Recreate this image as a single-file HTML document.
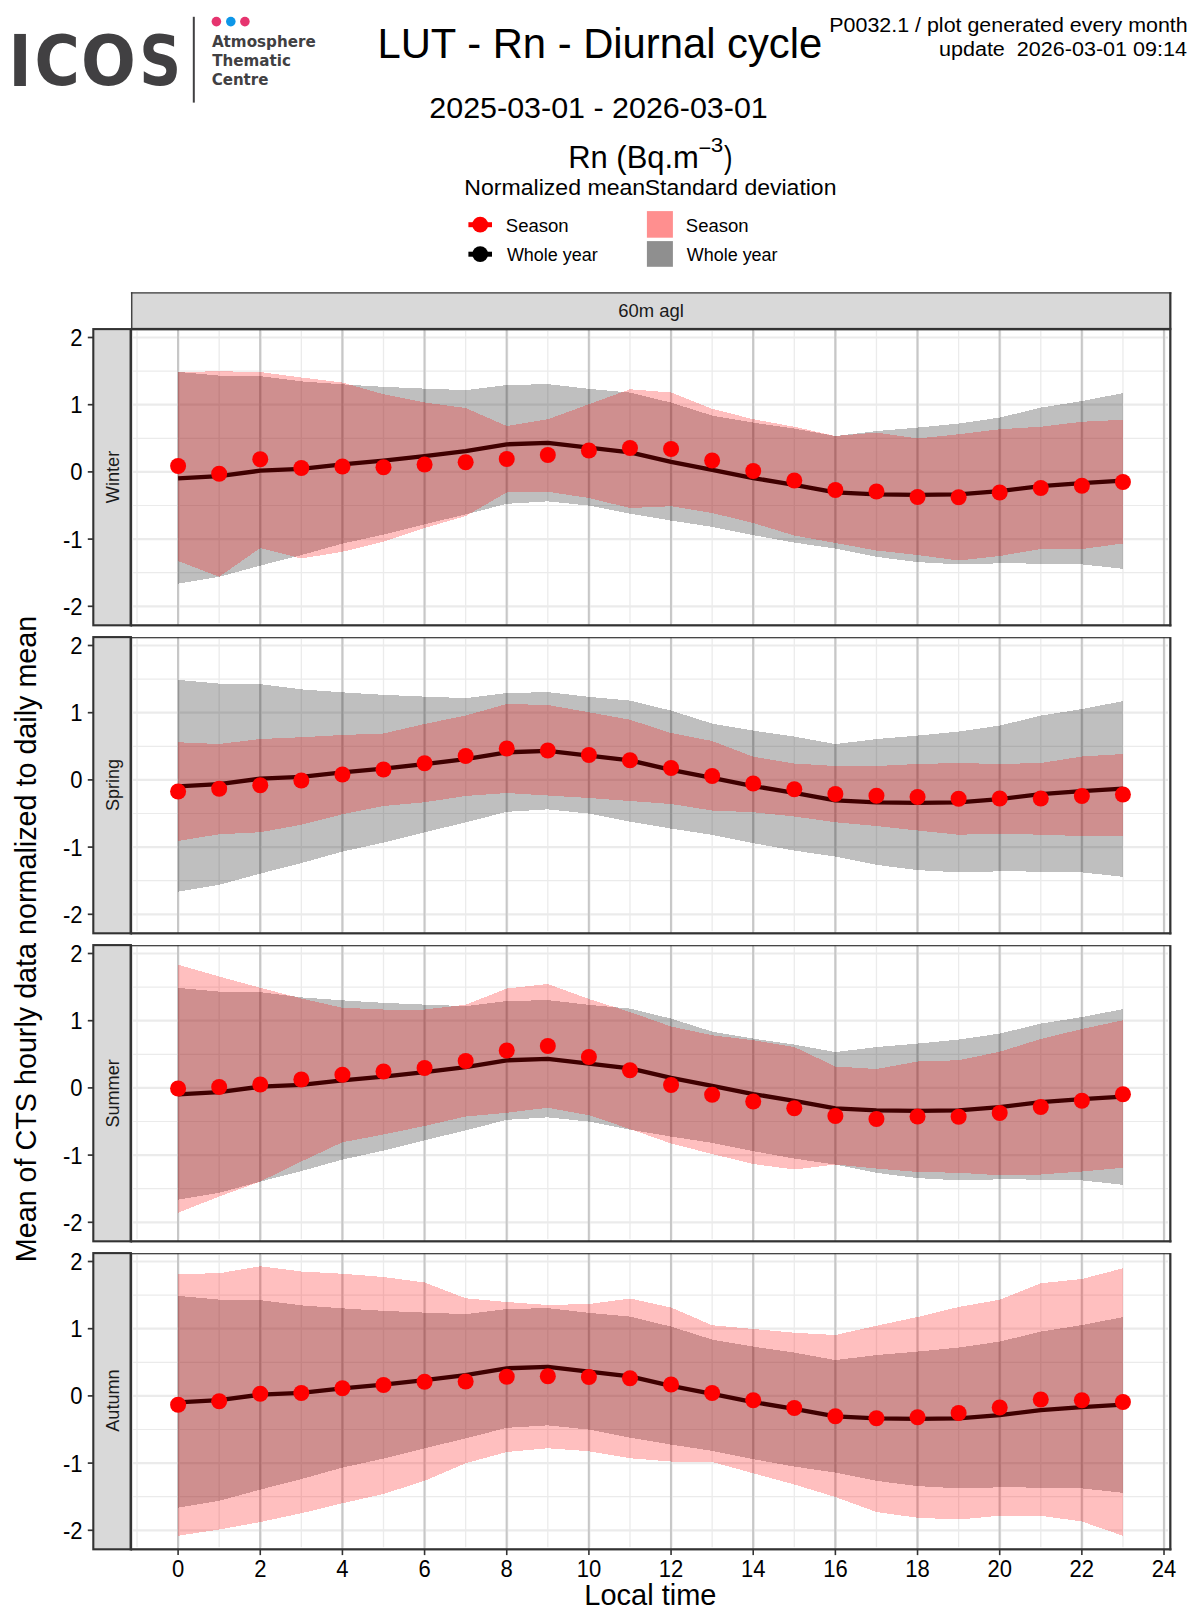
<!DOCTYPE html>
<html lang="en">
<head>
<meta charset="utf-8">
<title>LUT - Rn - Diurnal cycle</title>
<style>
html,body{margin:0;padding:0;background:#ffffff;}
body{width:1200px;height:1620px;overflow:hidden;font-family:'Liberation Sans', Arial, Helvetica, sans-serif;}
svg{display:block;}
</style>
</head>
<body>
<svg width="1200" height="1620" viewBox="0 0 1200 1620" font-family="'Liberation Sans', Arial, Helvetica, sans-serif">
<rect x="0" y="0" width="1200" height="1620" fill="#ffffff"/>
<text x="8.46" y="85.8" font-size="70.5" fill="#414042" textLength="23.16" lengthAdjust="spacingAndGlyphs" font-family="'DejaVu Sans', sans-serif" font-weight="bold">I</text>
<g transform="translate(0 60) scale(1 0.984) translate(0 -60)">
<text x="34.44" y="85.8" font-size="70.5" fill="#414042" textLength="45.29" lengthAdjust="spacingAndGlyphs" font-family="'DejaVu Sans', sans-serif" font-weight="bold">C</text>
<text x="81" y="85.8" font-size="70.5" fill="#414042" textLength="54.86" lengthAdjust="spacingAndGlyphs" font-family="'DejaVu Sans', sans-serif" font-weight="bold">O</text>
<text x="139.18" y="85.8" font-size="70.5" fill="#414042" textLength="41.87" lengthAdjust="spacingAndGlyphs" font-family="'DejaVu Sans', sans-serif" font-weight="bold">S</text>
</g>
<rect x="192.8" y="16.8" width="2" height="85.8" fill="#414042"/>
<text x="211.88" y="46.9" font-size="15.3" fill="#414042" textLength="103.84" lengthAdjust="spacingAndGlyphs" font-family="'DejaVu Sans', sans-serif" font-weight="bold">Atmosphere</text>
<text x="212.28" y="65.7" font-size="15.3" fill="#414042" textLength="78.68" lengthAdjust="spacingAndGlyphs" font-family="'DejaVu Sans', sans-serif" font-weight="bold">Thematic</text>
<text x="211.66" y="84.7" font-size="15.3" fill="#414042" textLength="56.75" lengthAdjust="spacingAndGlyphs" font-family="'DejaVu Sans', sans-serif" font-weight="bold">Centre</text>
<circle cx="216.4" cy="21.6" r="4.8" fill="#e6346f"/>
<circle cx="230.8" cy="21.6" r="4.8" fill="#0d96e8"/>
<circle cx="244.9" cy="21.6" r="4.8" fill="#e6346f"/>
<text x="377.42" y="58.3" font-size="41.67" fill="#000000" textLength="444.8" lengthAdjust="spacingAndGlyphs">LUT - Rn - Diurnal cycle</text>
<text x="429.29" y="117.5" font-size="30.3" fill="#000000" textLength="338.54" lengthAdjust="spacingAndGlyphs">2025-03-01 - 2026-03-01</text>
<text x="829.32" y="31.7" font-size="19.6" fill="#000000" textLength="358.41" lengthAdjust="spacingAndGlyphs">P0032.1 / plot generated every month</text>
<text x="938.93" y="56.1" font-size="19.6" fill="#000000" textLength="248.12" lengthAdjust="spacingAndGlyphs" xml:space="preserve">update  2026-03-01 09:14</text>
<text x="568.2" y="168.4" font-size="31.25" fill="#000000" textLength="130.68" lengthAdjust="spacingAndGlyphs">Rn (Bq.m</text>
<text x="698.54" y="154.9" font-size="20.6" fill="#000000" textLength="12.75" lengthAdjust="spacingAndGlyphs">−</text>
<text x="710.88" y="152.4" font-size="20.6" fill="#000000" textLength="12.46" lengthAdjust="spacingAndGlyphs">3</text>
<text x="724.1" y="168.4" font-size="31.25" fill="#000000" textLength="8.45" lengthAdjust="spacingAndGlyphs">)</text>
<text x="464.37" y="195.4" font-size="22.4" fill="#000000" textLength="180.77" lengthAdjust="spacingAndGlyphs">Normalized mean</text>
<text x="644.77" y="195.4" font-size="22.4" fill="#000000" textLength="191.68" lengthAdjust="spacingAndGlyphs">Standard deviation</text>
<text x="505.81" y="231.6" font-size="18.3" fill="#000000" textLength="62.88" lengthAdjust="spacingAndGlyphs">Season</text>
<text x="506.88" y="260.8" font-size="18.3" fill="#000000" textLength="90.91" lengthAdjust="spacingAndGlyphs">Whole year</text>
<text x="685.82" y="231.6" font-size="18.3" fill="#000000" textLength="62.68" lengthAdjust="spacingAndGlyphs">Season</text>
<text x="686.78" y="260.8" font-size="18.3" fill="#000000" textLength="90.81" lengthAdjust="spacingAndGlyphs">Whole year</text>
<line x1="468.4" y1="224.7" x2="492" y2="224.7" stroke="#ff0000" stroke-width="5"/>
<circle cx="480.2" cy="224.7" r="7.9" fill="#ff0000"/>
<line x1="468.4" y1="254.2" x2="492" y2="254.2" stroke="#000000" stroke-width="5"/>
<circle cx="480.2" cy="254.2" r="7.9" fill="#000000"/>
<rect x="646.9" y="211.1" width="26" height="26.6" fill="#ff8f8f"/>
<rect x="646.9" y="241.1" width="26" height="25.7" fill="#8f8f8f"/>
<rect x="130.9" y="292.3" width="1039.4" height="36.6" fill="#d9d9d9"/>
<rect x="130.9" y="292.3" width="1040.5" height="1.2" fill="#333333"/>
<rect x="131.1" y="292.3" width="1.3" height="36.6" fill="#333333"/>
<rect x="1169.2" y="292.3" width="2.25" height="36.6" fill="#333333"/>
<text x="618.32" y="317" font-size="18.3" fill="#1a1a1a" textLength="65.61" lengthAdjust="spacingAndGlyphs">60m agl</text>
<defs>
<clipPath id="cp0"><rect x="130.9" y="328.9" width="1039.4" height="296.4"/></clipPath>
<clipPath id="cp1"><rect x="130.9" y="636.9" width="1039.4" height="296.4"/></clipPath>
<clipPath id="cp2"><rect x="130.9" y="944.9" width="1039.4" height="296.4"/></clipPath>
<clipPath id="cp3"><rect x="130.9" y="1252.9" width="1039.4" height="296.4"/></clipPath>
</defs>
<g id="panel0">
<rect x="93.3" y="329.1" width="37.6" height="296.2" fill="#d9d9d9" stroke="#333333" stroke-width="2.1"/>
<g transform="translate(119 503.15) rotate(-90)">
<text x="-0.12" y="0" font-size="18.3" fill="#1a1a1a" textLength="52.46" lengthAdjust="spacingAndGlyphs">Winter</text>
</g>
<g clip-path="url(#cp0)">
<line x1="133.1" y1="606.3" x2="1168" y2="606.3" stroke="#ebebeb" stroke-width="2.2"/>
<line x1="133.1" y1="572.7" x2="1168" y2="572.7" stroke="#ebebeb" stroke-width="1.2"/>
<line x1="133.1" y1="539.1" x2="1168" y2="539.1" stroke="#ebebeb" stroke-width="2.2"/>
<line x1="133.1" y1="505.5" x2="1168" y2="505.5" stroke="#ebebeb" stroke-width="1.2"/>
<line x1="133.1" y1="471.9" x2="1168" y2="471.9" stroke="#ebebeb" stroke-width="2.2"/>
<line x1="133.1" y1="438.3" x2="1168" y2="438.3" stroke="#ebebeb" stroke-width="1.2"/>
<line x1="133.1" y1="404.7" x2="1168" y2="404.7" stroke="#ebebeb" stroke-width="2.2"/>
<line x1="133.1" y1="371.1" x2="1168" y2="371.1" stroke="#ebebeb" stroke-width="1.2"/>
<line x1="133.1" y1="337.5" x2="1168" y2="337.5" stroke="#ebebeb" stroke-width="2.2"/>
<line x1="137.02" y1="330.9" x2="137.02" y2="623.3" stroke="#ebebeb" stroke-width="1.3"/>
<line x1="178.45" y1="330.9" x2="178.45" y2="623.3" stroke="#ebebeb" stroke-width="2.4"/>
<line x1="219.18" y1="330.9" x2="219.18" y2="623.3" stroke="#ebebeb" stroke-width="1.3"/>
<line x1="260.61" y1="330.9" x2="260.61" y2="623.3" stroke="#ebebeb" stroke-width="2.4"/>
<line x1="301.34" y1="330.9" x2="301.34" y2="623.3" stroke="#ebebeb" stroke-width="1.3"/>
<line x1="342.77" y1="330.9" x2="342.77" y2="623.3" stroke="#ebebeb" stroke-width="2.4"/>
<line x1="383.5" y1="330.9" x2="383.5" y2="623.3" stroke="#ebebeb" stroke-width="1.3"/>
<line x1="424.93" y1="330.9" x2="424.93" y2="623.3" stroke="#ebebeb" stroke-width="2.4"/>
<line x1="465.66" y1="330.9" x2="465.66" y2="623.3" stroke="#ebebeb" stroke-width="1.3"/>
<line x1="507.09" y1="330.9" x2="507.09" y2="623.3" stroke="#ebebeb" stroke-width="2.4"/>
<line x1="547.82" y1="330.9" x2="547.82" y2="623.3" stroke="#ebebeb" stroke-width="1.3"/>
<line x1="589.25" y1="330.9" x2="589.25" y2="623.3" stroke="#ebebeb" stroke-width="2.4"/>
<line x1="629.98" y1="330.9" x2="629.98" y2="623.3" stroke="#ebebeb" stroke-width="1.3"/>
<line x1="671.41" y1="330.9" x2="671.41" y2="623.3" stroke="#ebebeb" stroke-width="2.4"/>
<line x1="712.14" y1="330.9" x2="712.14" y2="623.3" stroke="#ebebeb" stroke-width="1.3"/>
<line x1="753.57" y1="330.9" x2="753.57" y2="623.3" stroke="#ebebeb" stroke-width="2.4"/>
<line x1="794.3" y1="330.9" x2="794.3" y2="623.3" stroke="#ebebeb" stroke-width="1.3"/>
<line x1="835.73" y1="330.9" x2="835.73" y2="623.3" stroke="#ebebeb" stroke-width="2.4"/>
<line x1="876.46" y1="330.9" x2="876.46" y2="623.3" stroke="#ebebeb" stroke-width="1.3"/>
<line x1="917.89" y1="330.9" x2="917.89" y2="623.3" stroke="#ebebeb" stroke-width="2.4"/>
<line x1="958.62" y1="330.9" x2="958.62" y2="623.3" stroke="#ebebeb" stroke-width="1.3"/>
<line x1="1000.05" y1="330.9" x2="1000.05" y2="623.3" stroke="#ebebeb" stroke-width="2.4"/>
<line x1="1040.78" y1="330.9" x2="1040.78" y2="623.3" stroke="#ebebeb" stroke-width="1.3"/>
<line x1="1082.21" y1="330.9" x2="1082.21" y2="623.3" stroke="#ebebeb" stroke-width="2.4"/>
<line x1="1122.94" y1="330.9" x2="1122.94" y2="623.3" stroke="#ebebeb" stroke-width="1.3"/>
<line x1="1164.37" y1="330.9" x2="1164.37" y2="623.3" stroke="#ebebeb" stroke-width="2.4"/>
<line x1="178" y1="328.9" x2="178" y2="625.3" stroke="#c7c7c7" stroke-width="2"/>
<line x1="260.16" y1="328.9" x2="260.16" y2="625.3" stroke="#c7c7c7" stroke-width="2"/>
<line x1="342.32" y1="328.9" x2="342.32" y2="625.3" stroke="#c7c7c7" stroke-width="2"/>
<line x1="424.48" y1="328.9" x2="424.48" y2="625.3" stroke="#c7c7c7" stroke-width="2"/>
<line x1="506.64" y1="328.9" x2="506.64" y2="625.3" stroke="#c7c7c7" stroke-width="2"/>
<line x1="588.8" y1="328.9" x2="588.8" y2="625.3" stroke="#c7c7c7" stroke-width="2"/>
<line x1="670.96" y1="328.9" x2="670.96" y2="625.3" stroke="#c7c7c7" stroke-width="2"/>
<line x1="753.12" y1="328.9" x2="753.12" y2="625.3" stroke="#c7c7c7" stroke-width="2"/>
<line x1="835.28" y1="328.9" x2="835.28" y2="625.3" stroke="#c7c7c7" stroke-width="2"/>
<line x1="917.44" y1="328.9" x2="917.44" y2="625.3" stroke="#c7c7c7" stroke-width="2"/>
<line x1="999.6" y1="328.9" x2="999.6" y2="625.3" stroke="#c7c7c7" stroke-width="2"/>
<line x1="1081.76" y1="328.9" x2="1081.76" y2="625.3" stroke="#c7c7c7" stroke-width="2"/>
<line x1="1163.92" y1="328.9" x2="1163.92" y2="625.3" stroke="#c7c7c7" stroke-width="2"/>
<polygon points="178.1,371.85 219.18,375.6 260.26,376.1 301.34,381.35 342.42,384.35 383.5,386.85 424.58,388.6 465.66,390.1 506.74,385.1 547.82,384.1 588.9,388.85 629.98,392.6 671.06,402.6 712.14,415.6 753.22,422.6 794.3,428.6 835.38,436.1 876.46,431.1 917.54,427.6 958.62,423.6 999.7,417.6 1040.78,407.6 1081.86,401.1 1122.94,393.1 1122.94,568.85 1081.86,564.35 1040.78,563.6 999.7,563.35 958.62,564.35 917.54,562.1 876.46,556.85 835.38,548.6 794.3,542.6 753.22,535.1 712.14,526.85 671.06,520.6 629.98,513.6 588.9,505.6 547.82,501.35 506.74,503.85 465.66,514.35 424.58,524.35 383.5,534.6 342.42,543.6 301.34,555.1 260.26,565.6 219.18,576.85 178.1,583.6" fill="#000000" fill-opacity="0.25" shape-rendering="crispEdges"/>
<polyline points="178.1,478.35 219.18,476.1 260.26,470.6 301.34,468.85 342.42,464.35 383.5,460.6 424.58,456.1 465.66,451.1 506.74,444.35 547.82,442.85 588.9,447.6 629.98,452.35 671.06,461.85 712.14,469.85 753.22,478.1 794.3,484.85 835.38,492.35 876.46,494.35 917.54,494.85 958.62,494.35 999.7,491.1 1040.78,486.1 1081.86,483.1 1122.94,480.6" fill="none" stroke="#000000" stroke-width="4.4" stroke-linejoin="round" stroke-linecap="butt"/>
<polygon points="178.1,372 219.18,371.25 260.26,372 301.34,377.5 342.42,382.5 383.5,394.25 424.58,402.5 465.66,408 506.74,426 547.82,419.25 588.9,404.25 629.98,389.25 671.06,392.5 712.14,408.75 753.22,419.25 794.3,426.75 835.38,436 876.46,432.5 917.54,438.5 958.62,434.25 999.7,429.25 1040.78,426.75 1081.86,421.75 1122.94,419.75 1122.94,543.5 1081.86,549 1040.78,549 999.7,556 958.62,560.5 917.54,555 876.46,550.5 835.38,543 794.3,535.5 753.22,523 712.14,513 671.06,506.25 629.98,508 588.9,498 547.82,491.75 506.74,492.5 465.66,516 424.58,528 383.5,541.75 342.42,551.75 301.34,558.5 260.26,548 219.18,576.75 178.1,561" fill="#ff0000" fill-opacity="0.25" shape-rendering="crispEdges"/>
<circle cx="178.1" cy="466" r="8" fill="#ff0000"/>
<circle cx="219.18" cy="473.75" r="8" fill="#ff0000"/>
<circle cx="260.26" cy="459.25" r="8" fill="#ff0000"/>
<circle cx="301.34" cy="468" r="8" fill="#ff0000"/>
<circle cx="342.42" cy="466.5" r="8" fill="#ff0000"/>
<circle cx="383.5" cy="467.25" r="8" fill="#ff0000"/>
<circle cx="424.58" cy="464.5" r="8" fill="#ff0000"/>
<circle cx="465.66" cy="462.25" r="8" fill="#ff0000"/>
<circle cx="506.74" cy="459" r="8" fill="#ff0000"/>
<circle cx="547.82" cy="455" r="8" fill="#ff0000"/>
<circle cx="588.9" cy="450.5" r="8" fill="#ff0000"/>
<circle cx="629.98" cy="448" r="8" fill="#ff0000"/>
<circle cx="671.06" cy="449" r="8" fill="#ff0000"/>
<circle cx="712.14" cy="460.5" r="8" fill="#ff0000"/>
<circle cx="753.22" cy="471" r="8" fill="#ff0000"/>
<circle cx="794.3" cy="480.5" r="8" fill="#ff0000"/>
<circle cx="835.38" cy="490" r="8" fill="#ff0000"/>
<circle cx="876.46" cy="491.5" r="8" fill="#ff0000"/>
<circle cx="917.54" cy="497" r="8" fill="#ff0000"/>
<circle cx="958.62" cy="497.25" r="8" fill="#ff0000"/>
<circle cx="999.7" cy="492.5" r="8" fill="#ff0000"/>
<circle cx="1040.78" cy="488" r="8" fill="#ff0000"/>
<circle cx="1081.86" cy="485.75" r="8" fill="#ff0000"/>
<circle cx="1122.94" cy="482" r="8" fill="#ff0000"/>
</g>
<rect x="130.9" y="329.1" width="1039.4" height="1.2" fill="#333333"/>
<rect x="129.65" y="329.1" width="2.5" height="297.3" fill="#333333"/>
<rect x="1169.2" y="329.1" width="2.25" height="297.3" fill="#333333"/>
<rect x="130.9" y="624.2" width="1040.5" height="2.25" fill="#333333"/>
<line x1="87.8" y1="337.5" x2="93.3" y2="337.5" stroke="#333333" stroke-width="1.7"/>
<text transform="translate(82.6 345.9) scale(0.91 1)" font-size="24.2" fill="#000000" text-anchor="end">2</text>
<line x1="87.8" y1="404.7" x2="93.3" y2="404.7" stroke="#333333" stroke-width="1.7"/>
<text transform="translate(82.6 413.1) scale(0.91 1)" font-size="24.2" fill="#000000" text-anchor="end">1</text>
<line x1="87.8" y1="471.9" x2="93.3" y2="471.9" stroke="#333333" stroke-width="1.7"/>
<text transform="translate(82.6 480.3) scale(0.91 1)" font-size="24.2" fill="#000000" text-anchor="end">0</text>
<line x1="87.8" y1="539.1" x2="93.3" y2="539.1" stroke="#333333" stroke-width="1.7"/>
<text transform="translate(82.6 547.5) scale(0.91 1)" font-size="24.2" fill="#000000" text-anchor="end">-1</text>
<line x1="87.8" y1="606.3" x2="93.3" y2="606.3" stroke="#333333" stroke-width="1.7"/>
<text transform="translate(82.6 614.7) scale(0.91 1)" font-size="24.2" fill="#000000" text-anchor="end">-2</text>
</g>
<g id="panel1">
<rect x="93.3" y="637.1" width="37.6" height="296.2" fill="#d9d9d9" stroke="#333333" stroke-width="2.1"/>
<g transform="translate(119 810.2) rotate(-90)">
<text x="-0.86" y="0" font-size="18.3" fill="#1a1a1a" textLength="52.19" lengthAdjust="spacingAndGlyphs">Spring</text>
</g>
<g clip-path="url(#cp1)">
<line x1="133.1" y1="914.3" x2="1168" y2="914.3" stroke="#ebebeb" stroke-width="2.2"/>
<line x1="133.1" y1="880.7" x2="1168" y2="880.7" stroke="#ebebeb" stroke-width="1.2"/>
<line x1="133.1" y1="847.1" x2="1168" y2="847.1" stroke="#ebebeb" stroke-width="2.2"/>
<line x1="133.1" y1="813.5" x2="1168" y2="813.5" stroke="#ebebeb" stroke-width="1.2"/>
<line x1="133.1" y1="779.9" x2="1168" y2="779.9" stroke="#ebebeb" stroke-width="2.2"/>
<line x1="133.1" y1="746.3" x2="1168" y2="746.3" stroke="#ebebeb" stroke-width="1.2"/>
<line x1="133.1" y1="712.7" x2="1168" y2="712.7" stroke="#ebebeb" stroke-width="2.2"/>
<line x1="133.1" y1="679.1" x2="1168" y2="679.1" stroke="#ebebeb" stroke-width="1.2"/>
<line x1="133.1" y1="645.5" x2="1168" y2="645.5" stroke="#ebebeb" stroke-width="2.2"/>
<line x1="137.02" y1="638.9" x2="137.02" y2="931.3" stroke="#ebebeb" stroke-width="1.3"/>
<line x1="178.45" y1="638.9" x2="178.45" y2="931.3" stroke="#ebebeb" stroke-width="2.4"/>
<line x1="219.18" y1="638.9" x2="219.18" y2="931.3" stroke="#ebebeb" stroke-width="1.3"/>
<line x1="260.61" y1="638.9" x2="260.61" y2="931.3" stroke="#ebebeb" stroke-width="2.4"/>
<line x1="301.34" y1="638.9" x2="301.34" y2="931.3" stroke="#ebebeb" stroke-width="1.3"/>
<line x1="342.77" y1="638.9" x2="342.77" y2="931.3" stroke="#ebebeb" stroke-width="2.4"/>
<line x1="383.5" y1="638.9" x2="383.5" y2="931.3" stroke="#ebebeb" stroke-width="1.3"/>
<line x1="424.93" y1="638.9" x2="424.93" y2="931.3" stroke="#ebebeb" stroke-width="2.4"/>
<line x1="465.66" y1="638.9" x2="465.66" y2="931.3" stroke="#ebebeb" stroke-width="1.3"/>
<line x1="507.09" y1="638.9" x2="507.09" y2="931.3" stroke="#ebebeb" stroke-width="2.4"/>
<line x1="547.82" y1="638.9" x2="547.82" y2="931.3" stroke="#ebebeb" stroke-width="1.3"/>
<line x1="589.25" y1="638.9" x2="589.25" y2="931.3" stroke="#ebebeb" stroke-width="2.4"/>
<line x1="629.98" y1="638.9" x2="629.98" y2="931.3" stroke="#ebebeb" stroke-width="1.3"/>
<line x1="671.41" y1="638.9" x2="671.41" y2="931.3" stroke="#ebebeb" stroke-width="2.4"/>
<line x1="712.14" y1="638.9" x2="712.14" y2="931.3" stroke="#ebebeb" stroke-width="1.3"/>
<line x1="753.57" y1="638.9" x2="753.57" y2="931.3" stroke="#ebebeb" stroke-width="2.4"/>
<line x1="794.3" y1="638.9" x2="794.3" y2="931.3" stroke="#ebebeb" stroke-width="1.3"/>
<line x1="835.73" y1="638.9" x2="835.73" y2="931.3" stroke="#ebebeb" stroke-width="2.4"/>
<line x1="876.46" y1="638.9" x2="876.46" y2="931.3" stroke="#ebebeb" stroke-width="1.3"/>
<line x1="917.89" y1="638.9" x2="917.89" y2="931.3" stroke="#ebebeb" stroke-width="2.4"/>
<line x1="958.62" y1="638.9" x2="958.62" y2="931.3" stroke="#ebebeb" stroke-width="1.3"/>
<line x1="1000.05" y1="638.9" x2="1000.05" y2="931.3" stroke="#ebebeb" stroke-width="2.4"/>
<line x1="1040.78" y1="638.9" x2="1040.78" y2="931.3" stroke="#ebebeb" stroke-width="1.3"/>
<line x1="1082.21" y1="638.9" x2="1082.21" y2="931.3" stroke="#ebebeb" stroke-width="2.4"/>
<line x1="1122.94" y1="638.9" x2="1122.94" y2="931.3" stroke="#ebebeb" stroke-width="1.3"/>
<line x1="1164.37" y1="638.9" x2="1164.37" y2="931.3" stroke="#ebebeb" stroke-width="2.4"/>
<line x1="178" y1="636.9" x2="178" y2="933.3" stroke="#c7c7c7" stroke-width="2"/>
<line x1="260.16" y1="636.9" x2="260.16" y2="933.3" stroke="#c7c7c7" stroke-width="2"/>
<line x1="342.32" y1="636.9" x2="342.32" y2="933.3" stroke="#c7c7c7" stroke-width="2"/>
<line x1="424.48" y1="636.9" x2="424.48" y2="933.3" stroke="#c7c7c7" stroke-width="2"/>
<line x1="506.64" y1="636.9" x2="506.64" y2="933.3" stroke="#c7c7c7" stroke-width="2"/>
<line x1="588.8" y1="636.9" x2="588.8" y2="933.3" stroke="#c7c7c7" stroke-width="2"/>
<line x1="670.96" y1="636.9" x2="670.96" y2="933.3" stroke="#c7c7c7" stroke-width="2"/>
<line x1="753.12" y1="636.9" x2="753.12" y2="933.3" stroke="#c7c7c7" stroke-width="2"/>
<line x1="835.28" y1="636.9" x2="835.28" y2="933.3" stroke="#c7c7c7" stroke-width="2"/>
<line x1="917.44" y1="636.9" x2="917.44" y2="933.3" stroke="#c7c7c7" stroke-width="2"/>
<line x1="999.6" y1="636.9" x2="999.6" y2="933.3" stroke="#c7c7c7" stroke-width="2"/>
<line x1="1081.76" y1="636.9" x2="1081.76" y2="933.3" stroke="#c7c7c7" stroke-width="2"/>
<line x1="1163.92" y1="636.9" x2="1163.92" y2="933.3" stroke="#c7c7c7" stroke-width="2"/>
<polygon points="178.1,679.85 219.18,683.6 260.26,684.1 301.34,689.35 342.42,692.35 383.5,694.85 424.58,696.6 465.66,698.1 506.74,693.1 547.82,692.1 588.9,696.85 629.98,700.6 671.06,710.6 712.14,723.6 753.22,730.6 794.3,736.6 835.38,744.1 876.46,739.1 917.54,735.6 958.62,731.6 999.7,725.6 1040.78,715.6 1081.86,709.1 1122.94,701.1 1122.94,876.85 1081.86,872.35 1040.78,871.6 999.7,871.35 958.62,872.35 917.54,870.1 876.46,864.85 835.38,856.6 794.3,850.6 753.22,843.1 712.14,834.85 671.06,828.6 629.98,821.6 588.9,813.6 547.82,809.35 506.74,811.85 465.66,822.35 424.58,832.35 383.5,842.6 342.42,851.6 301.34,863.1 260.26,873.6 219.18,884.85 178.1,891.6" fill="#000000" fill-opacity="0.25" shape-rendering="crispEdges"/>
<polyline points="178.1,786.35 219.18,784.1 260.26,778.6 301.34,776.85 342.42,772.35 383.5,768.6 424.58,764.1 465.66,759.1 506.74,752.35 547.82,750.85 588.9,755.6 629.98,760.35 671.06,769.85 712.14,777.85 753.22,786.1 794.3,792.85 835.38,800.35 876.46,802.35 917.54,802.85 958.62,802.35 999.7,799.1 1040.78,794.1 1081.86,791.1 1122.94,788.6" fill="none" stroke="#000000" stroke-width="4.4" stroke-linejoin="round" stroke-linecap="butt"/>
<polygon points="178.1,742.25 219.18,744 260.26,739 301.34,737.25 342.42,735 383.5,733.5 424.58,724 465.66,715.5 506.74,704 547.82,705 588.9,712.25 629.98,719.75 671.06,733 712.14,741 753.22,756.75 794.3,763.5 835.38,766 876.46,766 917.54,764 958.62,763 999.7,764 1040.78,763 1081.86,756.5 1122.94,754 1122.94,835.5 1081.86,836 1040.78,834.75 999.7,833.5 958.62,834.75 917.54,830.5 876.46,826 835.38,822.25 794.3,816.5 753.22,812.25 712.14,810.5 671.06,804 629.98,801 588.9,798 547.82,795.5 506.74,793 465.66,796 424.58,802.25 383.5,806 342.42,814.25 301.34,824.75 260.26,832.25 219.18,834.25 178.1,841" fill="#ff0000" fill-opacity="0.25" shape-rendering="crispEdges"/>
<circle cx="178.1" cy="791.5" r="8" fill="#ff0000"/>
<circle cx="219.18" cy="788.75" r="8" fill="#ff0000"/>
<circle cx="260.26" cy="785.25" r="8" fill="#ff0000"/>
<circle cx="301.34" cy="780.5" r="8" fill="#ff0000"/>
<circle cx="342.42" cy="774.5" r="8" fill="#ff0000"/>
<circle cx="383.5" cy="769.5" r="8" fill="#ff0000"/>
<circle cx="424.58" cy="763.25" r="8" fill="#ff0000"/>
<circle cx="465.66" cy="756" r="8" fill="#ff0000"/>
<circle cx="506.74" cy="748.5" r="8" fill="#ff0000"/>
<circle cx="547.82" cy="750.5" r="8" fill="#ff0000"/>
<circle cx="588.9" cy="755" r="8" fill="#ff0000"/>
<circle cx="629.98" cy="760.25" r="8" fill="#ff0000"/>
<circle cx="671.06" cy="768" r="8" fill="#ff0000"/>
<circle cx="712.14" cy="776" r="8" fill="#ff0000"/>
<circle cx="753.22" cy="783.5" r="8" fill="#ff0000"/>
<circle cx="794.3" cy="789.25" r="8" fill="#ff0000"/>
<circle cx="835.38" cy="794" r="8" fill="#ff0000"/>
<circle cx="876.46" cy="795.75" r="8" fill="#ff0000"/>
<circle cx="917.54" cy="797" r="8" fill="#ff0000"/>
<circle cx="958.62" cy="798.75" r="8" fill="#ff0000"/>
<circle cx="999.7" cy="798.5" r="8" fill="#ff0000"/>
<circle cx="1040.78" cy="798.5" r="8" fill="#ff0000"/>
<circle cx="1081.86" cy="796" r="8" fill="#ff0000"/>
<circle cx="1122.94" cy="794.5" r="8" fill="#ff0000"/>
</g>
<rect x="130.9" y="637.1" width="1039.4" height="1.2" fill="#333333"/>
<rect x="129.65" y="637.1" width="2.5" height="297.3" fill="#333333"/>
<rect x="1169.2" y="637.1" width="2.25" height="297.3" fill="#333333"/>
<rect x="130.9" y="932.2" width="1040.5" height="2.25" fill="#333333"/>
<line x1="87.8" y1="645.5" x2="93.3" y2="645.5" stroke="#333333" stroke-width="1.7"/>
<text transform="translate(82.6 653.9) scale(0.91 1)" font-size="24.2" fill="#000000" text-anchor="end">2</text>
<line x1="87.8" y1="712.7" x2="93.3" y2="712.7" stroke="#333333" stroke-width="1.7"/>
<text transform="translate(82.6 721.1) scale(0.91 1)" font-size="24.2" fill="#000000" text-anchor="end">1</text>
<line x1="87.8" y1="779.9" x2="93.3" y2="779.9" stroke="#333333" stroke-width="1.7"/>
<text transform="translate(82.6 788.3) scale(0.91 1)" font-size="24.2" fill="#000000" text-anchor="end">0</text>
<line x1="87.8" y1="847.1" x2="93.3" y2="847.1" stroke="#333333" stroke-width="1.7"/>
<text transform="translate(82.6 855.5) scale(0.91 1)" font-size="24.2" fill="#000000" text-anchor="end">-1</text>
<line x1="87.8" y1="914.3" x2="93.3" y2="914.3" stroke="#333333" stroke-width="1.7"/>
<text transform="translate(82.6 922.7) scale(0.91 1)" font-size="24.2" fill="#000000" text-anchor="end">-2</text>
</g>
<g id="panel2">
<rect x="93.3" y="945.1" width="37.6" height="296.2" fill="#d9d9d9" stroke="#333333" stroke-width="2.1"/>
<g transform="translate(119 1126.75) rotate(-90)">
<text x="-0.87" y="0" font-size="18.3" fill="#1a1a1a" textLength="68.42" lengthAdjust="spacingAndGlyphs">Summer</text>
</g>
<g clip-path="url(#cp2)">
<line x1="133.1" y1="1222.3" x2="1168" y2="1222.3" stroke="#ebebeb" stroke-width="2.2"/>
<line x1="133.1" y1="1188.7" x2="1168" y2="1188.7" stroke="#ebebeb" stroke-width="1.2"/>
<line x1="133.1" y1="1155.1" x2="1168" y2="1155.1" stroke="#ebebeb" stroke-width="2.2"/>
<line x1="133.1" y1="1121.5" x2="1168" y2="1121.5" stroke="#ebebeb" stroke-width="1.2"/>
<line x1="133.1" y1="1087.9" x2="1168" y2="1087.9" stroke="#ebebeb" stroke-width="2.2"/>
<line x1="133.1" y1="1054.3" x2="1168" y2="1054.3" stroke="#ebebeb" stroke-width="1.2"/>
<line x1="133.1" y1="1020.7" x2="1168" y2="1020.7" stroke="#ebebeb" stroke-width="2.2"/>
<line x1="133.1" y1="987.1" x2="1168" y2="987.1" stroke="#ebebeb" stroke-width="1.2"/>
<line x1="133.1" y1="953.5" x2="1168" y2="953.5" stroke="#ebebeb" stroke-width="2.2"/>
<line x1="137.02" y1="946.9" x2="137.02" y2="1239.3" stroke="#ebebeb" stroke-width="1.3"/>
<line x1="178.45" y1="946.9" x2="178.45" y2="1239.3" stroke="#ebebeb" stroke-width="2.4"/>
<line x1="219.18" y1="946.9" x2="219.18" y2="1239.3" stroke="#ebebeb" stroke-width="1.3"/>
<line x1="260.61" y1="946.9" x2="260.61" y2="1239.3" stroke="#ebebeb" stroke-width="2.4"/>
<line x1="301.34" y1="946.9" x2="301.34" y2="1239.3" stroke="#ebebeb" stroke-width="1.3"/>
<line x1="342.77" y1="946.9" x2="342.77" y2="1239.3" stroke="#ebebeb" stroke-width="2.4"/>
<line x1="383.5" y1="946.9" x2="383.5" y2="1239.3" stroke="#ebebeb" stroke-width="1.3"/>
<line x1="424.93" y1="946.9" x2="424.93" y2="1239.3" stroke="#ebebeb" stroke-width="2.4"/>
<line x1="465.66" y1="946.9" x2="465.66" y2="1239.3" stroke="#ebebeb" stroke-width="1.3"/>
<line x1="507.09" y1="946.9" x2="507.09" y2="1239.3" stroke="#ebebeb" stroke-width="2.4"/>
<line x1="547.82" y1="946.9" x2="547.82" y2="1239.3" stroke="#ebebeb" stroke-width="1.3"/>
<line x1="589.25" y1="946.9" x2="589.25" y2="1239.3" stroke="#ebebeb" stroke-width="2.4"/>
<line x1="629.98" y1="946.9" x2="629.98" y2="1239.3" stroke="#ebebeb" stroke-width="1.3"/>
<line x1="671.41" y1="946.9" x2="671.41" y2="1239.3" stroke="#ebebeb" stroke-width="2.4"/>
<line x1="712.14" y1="946.9" x2="712.14" y2="1239.3" stroke="#ebebeb" stroke-width="1.3"/>
<line x1="753.57" y1="946.9" x2="753.57" y2="1239.3" stroke="#ebebeb" stroke-width="2.4"/>
<line x1="794.3" y1="946.9" x2="794.3" y2="1239.3" stroke="#ebebeb" stroke-width="1.3"/>
<line x1="835.73" y1="946.9" x2="835.73" y2="1239.3" stroke="#ebebeb" stroke-width="2.4"/>
<line x1="876.46" y1="946.9" x2="876.46" y2="1239.3" stroke="#ebebeb" stroke-width="1.3"/>
<line x1="917.89" y1="946.9" x2="917.89" y2="1239.3" stroke="#ebebeb" stroke-width="2.4"/>
<line x1="958.62" y1="946.9" x2="958.62" y2="1239.3" stroke="#ebebeb" stroke-width="1.3"/>
<line x1="1000.05" y1="946.9" x2="1000.05" y2="1239.3" stroke="#ebebeb" stroke-width="2.4"/>
<line x1="1040.78" y1="946.9" x2="1040.78" y2="1239.3" stroke="#ebebeb" stroke-width="1.3"/>
<line x1="1082.21" y1="946.9" x2="1082.21" y2="1239.3" stroke="#ebebeb" stroke-width="2.4"/>
<line x1="1122.94" y1="946.9" x2="1122.94" y2="1239.3" stroke="#ebebeb" stroke-width="1.3"/>
<line x1="1164.37" y1="946.9" x2="1164.37" y2="1239.3" stroke="#ebebeb" stroke-width="2.4"/>
<line x1="178" y1="944.9" x2="178" y2="1241.3" stroke="#c7c7c7" stroke-width="2"/>
<line x1="260.16" y1="944.9" x2="260.16" y2="1241.3" stroke="#c7c7c7" stroke-width="2"/>
<line x1="342.32" y1="944.9" x2="342.32" y2="1241.3" stroke="#c7c7c7" stroke-width="2"/>
<line x1="424.48" y1="944.9" x2="424.48" y2="1241.3" stroke="#c7c7c7" stroke-width="2"/>
<line x1="506.64" y1="944.9" x2="506.64" y2="1241.3" stroke="#c7c7c7" stroke-width="2"/>
<line x1="588.8" y1="944.9" x2="588.8" y2="1241.3" stroke="#c7c7c7" stroke-width="2"/>
<line x1="670.96" y1="944.9" x2="670.96" y2="1241.3" stroke="#c7c7c7" stroke-width="2"/>
<line x1="753.12" y1="944.9" x2="753.12" y2="1241.3" stroke="#c7c7c7" stroke-width="2"/>
<line x1="835.28" y1="944.9" x2="835.28" y2="1241.3" stroke="#c7c7c7" stroke-width="2"/>
<line x1="917.44" y1="944.9" x2="917.44" y2="1241.3" stroke="#c7c7c7" stroke-width="2"/>
<line x1="999.6" y1="944.9" x2="999.6" y2="1241.3" stroke="#c7c7c7" stroke-width="2"/>
<line x1="1081.76" y1="944.9" x2="1081.76" y2="1241.3" stroke="#c7c7c7" stroke-width="2"/>
<line x1="1163.92" y1="944.9" x2="1163.92" y2="1241.3" stroke="#c7c7c7" stroke-width="2"/>
<polygon points="178.1,987.85 219.18,991.6 260.26,992.1 301.34,997.35 342.42,1000.35 383.5,1002.85 424.58,1004.6 465.66,1006.1 506.74,1001.1 547.82,1000.1 588.9,1004.85 629.98,1008.6 671.06,1018.6 712.14,1031.6 753.22,1038.6 794.3,1044.6 835.38,1052.1 876.46,1047.1 917.54,1043.6 958.62,1039.6 999.7,1033.6 1040.78,1023.6 1081.86,1017.1 1122.94,1009.1 1122.94,1184.85 1081.86,1180.35 1040.78,1179.6 999.7,1179.35 958.62,1180.35 917.54,1178.1 876.46,1172.85 835.38,1164.6 794.3,1158.6 753.22,1151.1 712.14,1142.85 671.06,1136.6 629.98,1129.6 588.9,1121.6 547.82,1117.35 506.74,1119.85 465.66,1130.35 424.58,1140.35 383.5,1150.6 342.42,1159.6 301.34,1171.1 260.26,1181.6 219.18,1192.85 178.1,1199.6" fill="#000000" fill-opacity="0.25" shape-rendering="crispEdges"/>
<polyline points="178.1,1094.35 219.18,1092.1 260.26,1086.6 301.34,1084.85 342.42,1080.35 383.5,1076.6 424.58,1072.1 465.66,1067.1 506.74,1060.35 547.82,1058.85 588.9,1063.6 629.98,1068.35 671.06,1077.85 712.14,1085.85 753.22,1094.1 794.3,1100.85 835.38,1108.35 876.46,1110.35 917.54,1110.85 958.62,1110.35 999.7,1107.1 1040.78,1102.1 1081.86,1099.1 1122.94,1096.6" fill="none" stroke="#000000" stroke-width="4.4" stroke-linejoin="round" stroke-linecap="butt"/>
<polygon points="178.1,964.75 219.18,976.5 260.26,987.75 301.34,998.5 342.42,1007.75 383.5,1009.5 424.58,1009.5 465.66,1004.75 506.74,988.5 547.82,984 588.9,999 629.98,1012 671.06,1026.5 712.14,1035.25 753.22,1040.25 794.3,1047 835.38,1066.5 876.46,1069 917.54,1061.5 958.62,1060.25 999.7,1051.75 1040.78,1039 1081.86,1029 1122.94,1020.25 1122.94,1167.75 1081.86,1171.5 1040.78,1174.5 999.7,1175.25 958.62,1172.75 917.54,1172 876.46,1168.5 835.38,1164.5 794.3,1169.5 753.22,1164 712.14,1154 671.06,1143.5 629.98,1129 588.9,1115.25 547.82,1107.75 506.74,1112.75 465.66,1116.5 424.58,1126 383.5,1134.5 342.42,1142.25 301.34,1161.5 260.26,1181.5 219.18,1196.5 178.1,1212.75" fill="#ff0000" fill-opacity="0.25" shape-rendering="crispEdges"/>
<circle cx="178.1" cy="1088.5" r="8" fill="#ff0000"/>
<circle cx="219.18" cy="1087" r="8" fill="#ff0000"/>
<circle cx="260.26" cy="1084.5" r="8" fill="#ff0000"/>
<circle cx="301.34" cy="1079.5" r="8" fill="#ff0000"/>
<circle cx="342.42" cy="1074.75" r="8" fill="#ff0000"/>
<circle cx="383.5" cy="1071.5" r="8" fill="#ff0000"/>
<circle cx="424.58" cy="1068" r="8" fill="#ff0000"/>
<circle cx="465.66" cy="1061" r="8" fill="#ff0000"/>
<circle cx="506.74" cy="1050.5" r="8" fill="#ff0000"/>
<circle cx="547.82" cy="1046" r="8" fill="#ff0000"/>
<circle cx="588.9" cy="1057" r="8" fill="#ff0000"/>
<circle cx="629.98" cy="1070.25" r="8" fill="#ff0000"/>
<circle cx="671.06" cy="1085" r="8" fill="#ff0000"/>
<circle cx="712.14" cy="1094.75" r="8" fill="#ff0000"/>
<circle cx="753.22" cy="1101.5" r="8" fill="#ff0000"/>
<circle cx="794.3" cy="1108.25" r="8" fill="#ff0000"/>
<circle cx="835.38" cy="1116" r="8" fill="#ff0000"/>
<circle cx="876.46" cy="1119" r="8" fill="#ff0000"/>
<circle cx="917.54" cy="1116.5" r="8" fill="#ff0000"/>
<circle cx="958.62" cy="1116.75" r="8" fill="#ff0000"/>
<circle cx="999.7" cy="1113" r="8" fill="#ff0000"/>
<circle cx="1040.78" cy="1107" r="8" fill="#ff0000"/>
<circle cx="1081.86" cy="1100.75" r="8" fill="#ff0000"/>
<circle cx="1122.94" cy="1094.25" r="8" fill="#ff0000"/>
</g>
<rect x="130.9" y="945.1" width="1039.4" height="1.2" fill="#333333"/>
<rect x="129.65" y="945.1" width="2.5" height="297.3" fill="#333333"/>
<rect x="1169.2" y="945.1" width="2.25" height="297.3" fill="#333333"/>
<rect x="130.9" y="1240.2" width="1040.5" height="2.25" fill="#333333"/>
<line x1="87.8" y1="953.5" x2="93.3" y2="953.5" stroke="#333333" stroke-width="1.7"/>
<text transform="translate(82.6 961.9) scale(0.91 1)" font-size="24.2" fill="#000000" text-anchor="end">2</text>
<line x1="87.8" y1="1020.7" x2="93.3" y2="1020.7" stroke="#333333" stroke-width="1.7"/>
<text transform="translate(82.6 1029.1) scale(0.91 1)" font-size="24.2" fill="#000000" text-anchor="end">1</text>
<line x1="87.8" y1="1087.9" x2="93.3" y2="1087.9" stroke="#333333" stroke-width="1.7"/>
<text transform="translate(82.6 1096.3) scale(0.91 1)" font-size="24.2" fill="#000000" text-anchor="end">0</text>
<line x1="87.8" y1="1155.1" x2="93.3" y2="1155.1" stroke="#333333" stroke-width="1.7"/>
<text transform="translate(82.6 1163.5) scale(0.91 1)" font-size="24.2" fill="#000000" text-anchor="end">-1</text>
<line x1="87.8" y1="1222.3" x2="93.3" y2="1222.3" stroke="#333333" stroke-width="1.7"/>
<text transform="translate(82.6 1230.7) scale(0.91 1)" font-size="24.2" fill="#000000" text-anchor="end">-2</text>
</g>
<g id="panel3">
<rect x="93.3" y="1253.1" width="37.6" height="296.2" fill="#d9d9d9" stroke="#333333" stroke-width="2.1"/>
<g transform="translate(119 1431.65) rotate(-90)">
<text x="-0.12" y="0" font-size="18.3" fill="#1a1a1a" textLength="62.39" lengthAdjust="spacingAndGlyphs">Autumn</text>
</g>
<g clip-path="url(#cp3)">
<line x1="133.1" y1="1530.3" x2="1168" y2="1530.3" stroke="#ebebeb" stroke-width="2.2"/>
<line x1="133.1" y1="1496.7" x2="1168" y2="1496.7" stroke="#ebebeb" stroke-width="1.2"/>
<line x1="133.1" y1="1463.1" x2="1168" y2="1463.1" stroke="#ebebeb" stroke-width="2.2"/>
<line x1="133.1" y1="1429.5" x2="1168" y2="1429.5" stroke="#ebebeb" stroke-width="1.2"/>
<line x1="133.1" y1="1395.9" x2="1168" y2="1395.9" stroke="#ebebeb" stroke-width="2.2"/>
<line x1="133.1" y1="1362.3" x2="1168" y2="1362.3" stroke="#ebebeb" stroke-width="1.2"/>
<line x1="133.1" y1="1328.7" x2="1168" y2="1328.7" stroke="#ebebeb" stroke-width="2.2"/>
<line x1="133.1" y1="1295.1" x2="1168" y2="1295.1" stroke="#ebebeb" stroke-width="1.2"/>
<line x1="133.1" y1="1261.5" x2="1168" y2="1261.5" stroke="#ebebeb" stroke-width="2.2"/>
<line x1="137.02" y1="1254.9" x2="137.02" y2="1547.3" stroke="#ebebeb" stroke-width="1.3"/>
<line x1="178.45" y1="1254.9" x2="178.45" y2="1547.3" stroke="#ebebeb" stroke-width="2.4"/>
<line x1="219.18" y1="1254.9" x2="219.18" y2="1547.3" stroke="#ebebeb" stroke-width="1.3"/>
<line x1="260.61" y1="1254.9" x2="260.61" y2="1547.3" stroke="#ebebeb" stroke-width="2.4"/>
<line x1="301.34" y1="1254.9" x2="301.34" y2="1547.3" stroke="#ebebeb" stroke-width="1.3"/>
<line x1="342.77" y1="1254.9" x2="342.77" y2="1547.3" stroke="#ebebeb" stroke-width="2.4"/>
<line x1="383.5" y1="1254.9" x2="383.5" y2="1547.3" stroke="#ebebeb" stroke-width="1.3"/>
<line x1="424.93" y1="1254.9" x2="424.93" y2="1547.3" stroke="#ebebeb" stroke-width="2.4"/>
<line x1="465.66" y1="1254.9" x2="465.66" y2="1547.3" stroke="#ebebeb" stroke-width="1.3"/>
<line x1="507.09" y1="1254.9" x2="507.09" y2="1547.3" stroke="#ebebeb" stroke-width="2.4"/>
<line x1="547.82" y1="1254.9" x2="547.82" y2="1547.3" stroke="#ebebeb" stroke-width="1.3"/>
<line x1="589.25" y1="1254.9" x2="589.25" y2="1547.3" stroke="#ebebeb" stroke-width="2.4"/>
<line x1="629.98" y1="1254.9" x2="629.98" y2="1547.3" stroke="#ebebeb" stroke-width="1.3"/>
<line x1="671.41" y1="1254.9" x2="671.41" y2="1547.3" stroke="#ebebeb" stroke-width="2.4"/>
<line x1="712.14" y1="1254.9" x2="712.14" y2="1547.3" stroke="#ebebeb" stroke-width="1.3"/>
<line x1="753.57" y1="1254.9" x2="753.57" y2="1547.3" stroke="#ebebeb" stroke-width="2.4"/>
<line x1="794.3" y1="1254.9" x2="794.3" y2="1547.3" stroke="#ebebeb" stroke-width="1.3"/>
<line x1="835.73" y1="1254.9" x2="835.73" y2="1547.3" stroke="#ebebeb" stroke-width="2.4"/>
<line x1="876.46" y1="1254.9" x2="876.46" y2="1547.3" stroke="#ebebeb" stroke-width="1.3"/>
<line x1="917.89" y1="1254.9" x2="917.89" y2="1547.3" stroke="#ebebeb" stroke-width="2.4"/>
<line x1="958.62" y1="1254.9" x2="958.62" y2="1547.3" stroke="#ebebeb" stroke-width="1.3"/>
<line x1="1000.05" y1="1254.9" x2="1000.05" y2="1547.3" stroke="#ebebeb" stroke-width="2.4"/>
<line x1="1040.78" y1="1254.9" x2="1040.78" y2="1547.3" stroke="#ebebeb" stroke-width="1.3"/>
<line x1="1082.21" y1="1254.9" x2="1082.21" y2="1547.3" stroke="#ebebeb" stroke-width="2.4"/>
<line x1="1122.94" y1="1254.9" x2="1122.94" y2="1547.3" stroke="#ebebeb" stroke-width="1.3"/>
<line x1="1164.37" y1="1254.9" x2="1164.37" y2="1547.3" stroke="#ebebeb" stroke-width="2.4"/>
<line x1="178" y1="1252.9" x2="178" y2="1549.3" stroke="#c7c7c7" stroke-width="2"/>
<line x1="260.16" y1="1252.9" x2="260.16" y2="1549.3" stroke="#c7c7c7" stroke-width="2"/>
<line x1="342.32" y1="1252.9" x2="342.32" y2="1549.3" stroke="#c7c7c7" stroke-width="2"/>
<line x1="424.48" y1="1252.9" x2="424.48" y2="1549.3" stroke="#c7c7c7" stroke-width="2"/>
<line x1="506.64" y1="1252.9" x2="506.64" y2="1549.3" stroke="#c7c7c7" stroke-width="2"/>
<line x1="588.8" y1="1252.9" x2="588.8" y2="1549.3" stroke="#c7c7c7" stroke-width="2"/>
<line x1="670.96" y1="1252.9" x2="670.96" y2="1549.3" stroke="#c7c7c7" stroke-width="2"/>
<line x1="753.12" y1="1252.9" x2="753.12" y2="1549.3" stroke="#c7c7c7" stroke-width="2"/>
<line x1="835.28" y1="1252.9" x2="835.28" y2="1549.3" stroke="#c7c7c7" stroke-width="2"/>
<line x1="917.44" y1="1252.9" x2="917.44" y2="1549.3" stroke="#c7c7c7" stroke-width="2"/>
<line x1="999.6" y1="1252.9" x2="999.6" y2="1549.3" stroke="#c7c7c7" stroke-width="2"/>
<line x1="1081.76" y1="1252.9" x2="1081.76" y2="1549.3" stroke="#c7c7c7" stroke-width="2"/>
<line x1="1163.92" y1="1252.9" x2="1163.92" y2="1549.3" stroke="#c7c7c7" stroke-width="2"/>
<polygon points="178.1,1295.85 219.18,1299.6 260.26,1300.1 301.34,1305.35 342.42,1308.35 383.5,1310.85 424.58,1312.6 465.66,1314.1 506.74,1309.1 547.82,1308.1 588.9,1312.85 629.98,1316.6 671.06,1326.6 712.14,1339.6 753.22,1346.6 794.3,1352.6 835.38,1360.1 876.46,1355.1 917.54,1351.6 958.62,1347.6 999.7,1341.6 1040.78,1331.6 1081.86,1325.1 1122.94,1317.1 1122.94,1492.85 1081.86,1488.35 1040.78,1487.6 999.7,1487.35 958.62,1488.35 917.54,1486.1 876.46,1480.85 835.38,1472.6 794.3,1466.6 753.22,1459.1 712.14,1450.85 671.06,1444.6 629.98,1437.6 588.9,1429.6 547.82,1425.35 506.74,1427.85 465.66,1438.35 424.58,1448.35 383.5,1458.6 342.42,1467.6 301.34,1479.1 260.26,1489.6 219.18,1500.85 178.1,1507.6" fill="#000000" fill-opacity="0.25" shape-rendering="crispEdges"/>
<polyline points="178.1,1402.35 219.18,1400.1 260.26,1394.6 301.34,1392.85 342.42,1388.35 383.5,1384.6 424.58,1380.1 465.66,1375.1 506.74,1368.35 547.82,1366.85 588.9,1371.6 629.98,1376.35 671.06,1385.85 712.14,1393.85 753.22,1402.1 794.3,1408.85 835.38,1416.35 876.46,1418.35 917.54,1418.85 958.62,1418.35 999.7,1415.1 1040.78,1410.1 1081.86,1407.1 1122.94,1404.6" fill="none" stroke="#000000" stroke-width="4.4" stroke-linejoin="round" stroke-linecap="butt"/>
<polygon points="178.1,1274 219.18,1273.25 260.26,1266.25 301.34,1271.5 342.42,1273.75 383.5,1277 424.58,1282.5 465.66,1298.25 506.74,1302 547.82,1305 588.9,1304 629.98,1298.5 671.06,1307.5 712.14,1325.25 753.22,1329 794.3,1332.75 835.38,1335 876.46,1325.75 917.54,1317 958.62,1307 999.7,1299.75 1040.78,1283.25 1081.86,1279 1122.94,1268.25 1122.94,1535.75 1081.86,1521.5 1040.78,1515.75 999.7,1515.75 958.62,1519.5 917.54,1517.75 876.46,1512 835.38,1497 794.3,1484.5 753.22,1473.25 712.14,1462 671.06,1461.5 629.98,1458.25 588.9,1451.25 547.82,1448.25 506.74,1452 465.66,1463.25 424.58,1480.75 383.5,1494 342.42,1503.25 301.34,1513.25 260.26,1522 219.18,1529.5 178.1,1535.75" fill="#ff0000" fill-opacity="0.25" shape-rendering="crispEdges"/>
<circle cx="178.1" cy="1404.75" r="8" fill="#ff0000"/>
<circle cx="219.18" cy="1401.25" r="8" fill="#ff0000"/>
<circle cx="260.26" cy="1393.75" r="8" fill="#ff0000"/>
<circle cx="301.34" cy="1393" r="8" fill="#ff0000"/>
<circle cx="342.42" cy="1388.25" r="8" fill="#ff0000"/>
<circle cx="383.5" cy="1385" r="8" fill="#ff0000"/>
<circle cx="424.58" cy="1381.75" r="8" fill="#ff0000"/>
<circle cx="465.66" cy="1381.5" r="8" fill="#ff0000"/>
<circle cx="506.74" cy="1376.75" r="8" fill="#ff0000"/>
<circle cx="547.82" cy="1376.25" r="8" fill="#ff0000"/>
<circle cx="588.9" cy="1377" r="8" fill="#ff0000"/>
<circle cx="629.98" cy="1378.25" r="8" fill="#ff0000"/>
<circle cx="671.06" cy="1384.5" r="8" fill="#ff0000"/>
<circle cx="712.14" cy="1393" r="8" fill="#ff0000"/>
<circle cx="753.22" cy="1400.25" r="8" fill="#ff0000"/>
<circle cx="794.3" cy="1408" r="8" fill="#ff0000"/>
<circle cx="835.38" cy="1416.25" r="8" fill="#ff0000"/>
<circle cx="876.46" cy="1418.25" r="8" fill="#ff0000"/>
<circle cx="917.54" cy="1417.25" r="8" fill="#ff0000"/>
<circle cx="958.62" cy="1413" r="8" fill="#ff0000"/>
<circle cx="999.7" cy="1407.5" r="8" fill="#ff0000"/>
<circle cx="1040.78" cy="1399.5" r="8" fill="#ff0000"/>
<circle cx="1081.86" cy="1400.25" r="8" fill="#ff0000"/>
<circle cx="1122.94" cy="1402" r="8" fill="#ff0000"/>
</g>
<rect x="130.9" y="1253.1" width="1039.4" height="1.2" fill="#333333"/>
<rect x="129.65" y="1253.1" width="2.5" height="297.3" fill="#333333"/>
<rect x="1169.2" y="1253.1" width="2.25" height="297.3" fill="#333333"/>
<rect x="130.9" y="1548.2" width="1040.5" height="2.25" fill="#333333"/>
<line x1="87.8" y1="1261.5" x2="93.3" y2="1261.5" stroke="#333333" stroke-width="1.7"/>
<text transform="translate(82.6 1269.9) scale(0.91 1)" font-size="24.2" fill="#000000" text-anchor="end">2</text>
<line x1="87.8" y1="1328.7" x2="93.3" y2="1328.7" stroke="#333333" stroke-width="1.7"/>
<text transform="translate(82.6 1337.1) scale(0.91 1)" font-size="24.2" fill="#000000" text-anchor="end">1</text>
<line x1="87.8" y1="1395.9" x2="93.3" y2="1395.9" stroke="#333333" stroke-width="1.7"/>
<text transform="translate(82.6 1404.3) scale(0.91 1)" font-size="24.2" fill="#000000" text-anchor="end">0</text>
<line x1="87.8" y1="1463.1" x2="93.3" y2="1463.1" stroke="#333333" stroke-width="1.7"/>
<text transform="translate(82.6 1471.5) scale(0.91 1)" font-size="24.2" fill="#000000" text-anchor="end">-1</text>
<line x1="87.8" y1="1530.3" x2="93.3" y2="1530.3" stroke="#333333" stroke-width="1.7"/>
<text transform="translate(82.6 1538.7) scale(0.91 1)" font-size="24.2" fill="#000000" text-anchor="end">-2</text>
</g>
<rect x="130.9" y="327.9" width="1040.5" height="2.2" fill="#333333"/>
<line x1="178.1" y1="1549.3" x2="178.1" y2="1555.1" stroke="#333333" stroke-width="1.6"/>
<text transform="translate(178.1 1576.8) scale(0.91 1)" font-size="24.2" fill="#000000" text-anchor="middle">0</text>
<line x1="260.26" y1="1549.3" x2="260.26" y2="1555.1" stroke="#333333" stroke-width="1.6"/>
<text transform="translate(260.26 1576.8) scale(0.91 1)" font-size="24.2" fill="#000000" text-anchor="middle">2</text>
<line x1="342.42" y1="1549.3" x2="342.42" y2="1555.1" stroke="#333333" stroke-width="1.6"/>
<text transform="translate(342.42 1576.8) scale(0.91 1)" font-size="24.2" fill="#000000" text-anchor="middle">4</text>
<line x1="424.58" y1="1549.3" x2="424.58" y2="1555.1" stroke="#333333" stroke-width="1.6"/>
<text transform="translate(424.58 1576.8) scale(0.91 1)" font-size="24.2" fill="#000000" text-anchor="middle">6</text>
<line x1="506.74" y1="1549.3" x2="506.74" y2="1555.1" stroke="#333333" stroke-width="1.6"/>
<text transform="translate(506.74 1576.8) scale(0.91 1)" font-size="24.2" fill="#000000" text-anchor="middle">8</text>
<line x1="588.9" y1="1549.3" x2="588.9" y2="1555.1" stroke="#333333" stroke-width="1.6"/>
<text transform="translate(588.9 1576.8) scale(0.91 1)" font-size="24.2" fill="#000000" text-anchor="middle">10</text>
<line x1="671.06" y1="1549.3" x2="671.06" y2="1555.1" stroke="#333333" stroke-width="1.6"/>
<text transform="translate(671.06 1576.8) scale(0.91 1)" font-size="24.2" fill="#000000" text-anchor="middle">12</text>
<line x1="753.22" y1="1549.3" x2="753.22" y2="1555.1" stroke="#333333" stroke-width="1.6"/>
<text transform="translate(753.22 1576.8) scale(0.91 1)" font-size="24.2" fill="#000000" text-anchor="middle">14</text>
<line x1="835.38" y1="1549.3" x2="835.38" y2="1555.1" stroke="#333333" stroke-width="1.6"/>
<text transform="translate(835.38 1576.8) scale(0.91 1)" font-size="24.2" fill="#000000" text-anchor="middle">16</text>
<line x1="917.54" y1="1549.3" x2="917.54" y2="1555.1" stroke="#333333" stroke-width="1.6"/>
<text transform="translate(917.54 1576.8) scale(0.91 1)" font-size="24.2" fill="#000000" text-anchor="middle">18</text>
<line x1="999.7" y1="1549.3" x2="999.7" y2="1555.1" stroke="#333333" stroke-width="1.6"/>
<text transform="translate(999.7 1576.8) scale(0.91 1)" font-size="24.2" fill="#000000" text-anchor="middle">20</text>
<line x1="1081.86" y1="1549.3" x2="1081.86" y2="1555.1" stroke="#333333" stroke-width="1.6"/>
<text transform="translate(1081.86 1576.8) scale(0.91 1)" font-size="24.2" fill="#000000" text-anchor="middle">22</text>
<line x1="1164.02" y1="1549.3" x2="1164.02" y2="1555.1" stroke="#333333" stroke-width="1.6"/>
<text transform="translate(1164.02 1576.8) scale(0.91 1)" font-size="24.2" fill="#000000" text-anchor="middle">24</text>
<text x="584.34" y="1604.6" font-size="29.17" fill="#000000" textLength="132.07" lengthAdjust="spacingAndGlyphs">Local time</text>
<g transform="translate(35.9 1259.9) rotate(-90)">
<text x="-2.34" y="0" font-size="29.17" fill="#000000" textLength="646.51" lengthAdjust="spacingAndGlyphs">Mean of CTS hourly data normalized to daily mean</text>
</g>
</svg>
</body>
</html>
